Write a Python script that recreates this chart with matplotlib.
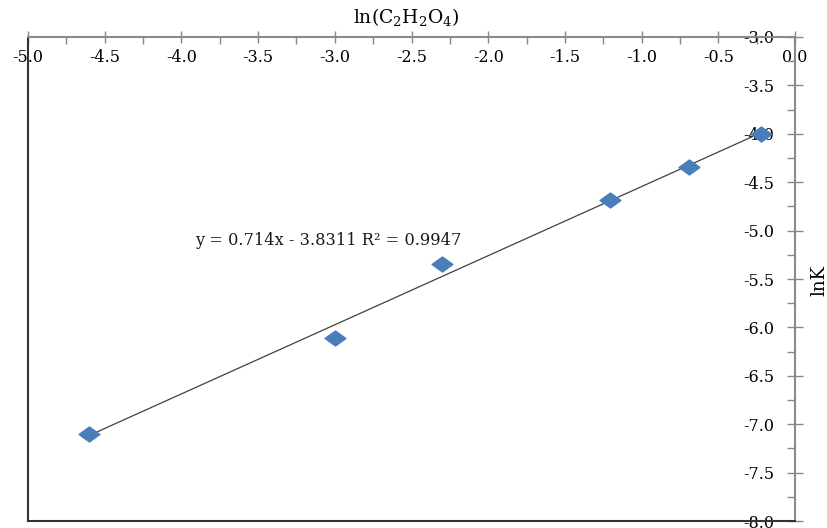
import numpy as np
import matplotlib.pyplot as plt
from matplotlib.path import Path

plt.rcParams['font.family'] = ['DejaVu Serif']
plt.rcParams['mathtext.fontset'] = 'custom'
plt.rcParams['mathtext.rm'] = 'DejaVu Serif'
plt.rcParams['mathtext.it'] = 'DejaVu Serif:italic'

# ln of oxalic acid concentration and ln of rate constant
ln_c = [-4.605, -2.996, -2.303, -1.204, -0.693, -0.223]
ln_k = [-7.10, -6.11, -5.345, -4.68, -4.34, -4.00]

# trendline from the chart label
slope = 0.714
intercept = -3.8311
eq_label = "y = 0.714x - 3.8311 R² = 0.9947"

x_ticks = np.arange(-5.0, 0.01, 0.5)
y_ticks = np.arange(-8.0, -2.99, 0.5)

# excel style diamond, a bit wider than tall
diamond = Path([(-1, 0), (0, 0.72), (1, 0), (0, -0.72), (-1, 0)],
               [Path.MOVETO, Path.LINETO, Path.LINETO, Path.LINETO, Path.CLOSEPOLY])

fig = plt.figure(figsize=(8.27, 5.28), dpi=100)
ax = fig.add_axes([28 / 827, 1 - 521 / 528, (795 - 28) / 827, (521 - 37) / 528])

xs = np.array([min(ln_c), max(ln_c)])
ax.plot(xs, slope * xs + intercept, color='#404040', lw=0.9, zorder=3)
ax.plot(ln_c, ln_k, linestyle='none', marker=diamond, markersize=15,
        color='#4A7EBB', markeredgecolor='#4A7EBB', zorder=4)

ax.text(-3.91, -5.107, eq_label, fontsize=11.7, va='center', ha='left', color='#1a1a1a')

ax.set_xlim(-5, 0)
ax.set_ylim(-8, -3)

ax.xaxis.tick_top()
ax.yaxis.tick_right()
ax.set_xticks(x_ticks)
ax.set_yticks(y_ticks)
ax.set_xticklabels([f"{v:.1f}" for v in x_ticks])
ax.set_yticklabels([f"{v:.1f}" for v in y_ticks])
ax.set_xticks(np.arange(-5.0, 0.01, 0.25), minor=True)
ax.set_yticks(np.arange(-8.0, -2.99, 0.25), minor=True)

ax.tick_params(axis='x', which='major', direction='inout', length=9, width=1,
               color='#888888', labelsize=11.5, pad=-13)
ax.tick_params(axis='x', which='minor', direction='in', length=5, width=1, color='#888888')
ax.tick_params(axis='y', which='major', direction='inout', length=12, width=1,
               color='#888888', labelsize=11.5, pad=-21)
ax.tick_params(axis='y', which='minor', direction='in', length=6, width=1, color='#888888')
plt.setp(ax.get_xticklabels(), va='top')
plt.setp(ax.get_yticklabels(), ha='right')

for side in ['left', 'bottom']:
    ax.spines[side].set_color('#333333')
    ax.spines[side].set_linewidth(1.5)
for side in ['top', 'right']:
    ax.spines[side].set_color('#8a8a8a')
    ax.spines[side].set_linewidth(1.5)

fig.text(406 / 827, 1 - 17 / 528, r'ln(C$_2$H$_2$O$_4$)', fontsize=13.5,
         ha='center', va='center')
fig.text(819 / 827, 1 - 280 / 528, 'lnK', fontsize=13, rotation=90,
         ha='center', va='center')

fig.savefig('out.png', dpi=100)
